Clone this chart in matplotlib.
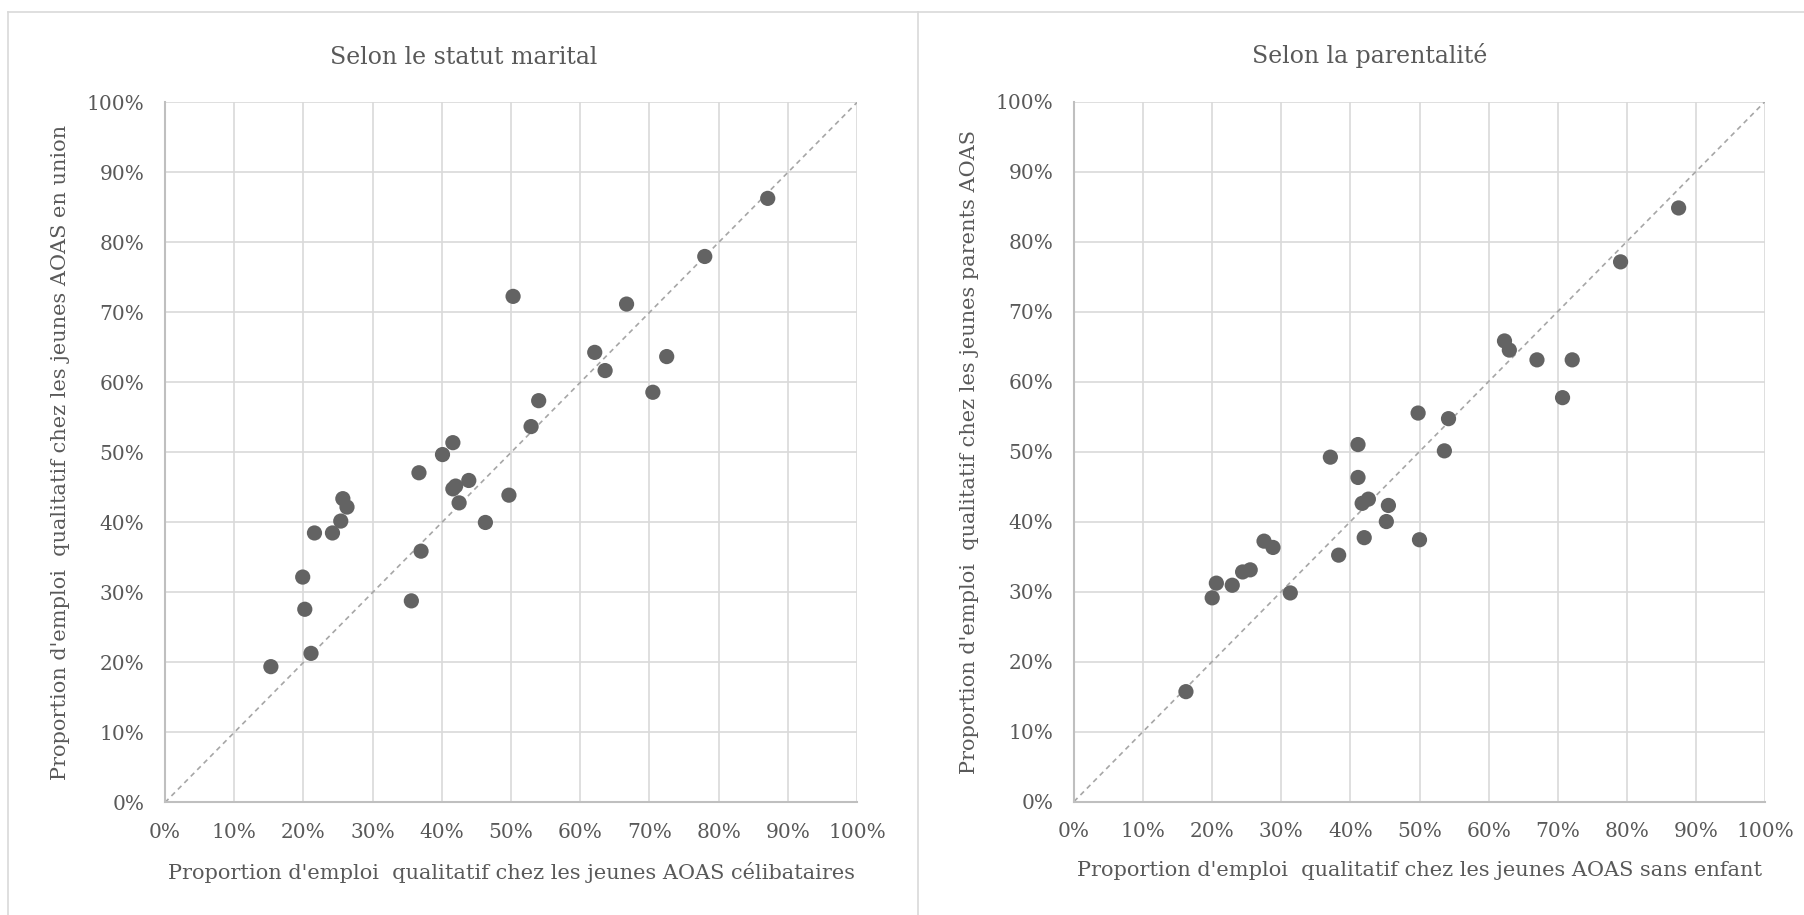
import matplotlib.pyplot as plt
from matplotlib.lines import Line2D
from matplotlib.ticker import PercentFormatter

# Selon le statut marital (x: célibataires, y: en union), en %
marital_x = [15.3, 21.1, 20.2, 19.9, 21.6, 24.2, 25.4, 25.7, 26.3, 35.6,
             37.0, 36.7, 40.1, 41.6, 41.6, 42.0, 42.5, 43.9, 46.3, 49.7,
             52.9, 54.0, 50.3, 66.7, 62.1, 63.6, 72.5, 70.5, 78.0, 87.1]
marital_y = [19.4, 21.3, 27.6, 32.2, 38.5, 38.5, 40.2, 43.4, 42.2, 28.8,
             35.9, 47.1, 49.7, 51.4, 44.8, 45.2, 42.8, 46.0, 40.0, 43.9,
             53.7, 57.4, 72.3, 71.2, 64.3, 61.7, 63.7, 58.6, 78.0, 86.3]

# Selon la parentalité (x: sans enfant, y: parents), en %
parent_x = [16.2, 20.0, 20.6, 22.9, 24.4, 25.5, 27.5, 28.8, 31.3, 38.3,
            37.1, 41.1, 41.1, 41.7, 42.6, 42.0, 45.5, 45.2, 49.8, 54.2,
            53.6, 50.0, 62.3, 63.0, 67.0, 72.1, 70.7, 79.1, 87.5]
parent_y = [15.7, 29.1, 31.2, 30.9, 32.8, 33.1, 37.2, 36.3, 29.8, 35.2,
            49.2, 51.0, 46.3, 42.6, 43.2, 37.7, 42.3, 40.0, 55.5, 54.7,
            50.1, 37.4, 65.8, 64.5, 63.1, 63.1, 57.7, 77.1, 84.8]

titles = ["Selon le statut marital", "Selon la parentalité"]
xlabels = ["Proportion d'emploi  qualitatif chez les jeunes AOAS célibataires",
           "Proportion d'emploi  qualitatif chez les jeunes AOAS sans enfant"]
ylabels = ["Proportion d'emploi  qualitatif chez les jeunes AOAS en union",
           "Proportion d'emploi  qualitatif chez les jeunes parents AOAS"]

plt.rcParams['font.family'] = ['DejaVu Serif']

fig = plt.figure(figsize=(18.04, 9.15), dpi=100)
W, H = 1804, 915

# chart area borders (Excel style)
border = '#d9d9d9'
fig.add_artist(Line2D([8 / W, 1], [1 - 12 / H, 1 - 12 / H], color=border, lw=1.2))
fig.add_artist(Line2D([8 / W, 8 / W], [0, 1 - 12 / H], color=border, lw=1.2))
fig.add_artist(Line2D([918 / W, 918 / W], [0, 1 - 12 / H], color=border, lw=1.2))

positions = [[165 / W, 0.123, 692 / W, 0.765],
             [1074 / W, 0.124, 691 / W, 0.765]]
title_x = [0.431, 0.428]  # titles are centred on the chart area, not the plot
data = [(marital_x, marital_y), (parent_x, parent_y)]
txt = '#595959'

for i in range(2):
    ax = fig.add_axes(positions[i])
    x, y = data[i]
    ax.plot([0, 100], [0, 100], color='#a6a6a6', lw=1.2, linestyle=(0, (3, 2.5)), zorder=2)
    ax.scatter(x, y, s=120, color='#636363', edgecolors='none', zorder=3)
    ax.set_xlim(0, 100)
    ax.set_ylim(0, 100)
    ax.set_xticks(range(0, 101, 10))
    ax.set_yticks(range(0, 101, 10))
    ax.xaxis.set_major_formatter(PercentFormatter(decimals=0))
    ax.yaxis.set_major_formatter(PercentFormatter(decimals=0))
    ax.grid(True, color='#d9d9d9', lw=1.2, zorder=0)
    ax.set_axisbelow(True)
    for s in ['top', 'right']:
        ax.spines[s].set_visible(False)
    for s in ['left', 'bottom']:
        ax.spines[s].set_color('#bfbfbf')
        ax.spines[s].set_linewidth(1.5)
    ax.tick_params(length=0, labelsize=14.5, labelcolor=txt)
    ax.tick_params(axis='x', pad=15)
    ax.tick_params(axis='y', pad=15)
    ax.set_title(titles[i], fontsize=17, color=txt, pad=28, x=title_x[i])
    ax.set_xlabel(xlabels[i], fontsize=15, color=txt, labelpad=14)
    ax.set_ylabel(ylabels[i], fontsize=15, color=txt, labelpad=12)

fig.savefig('out.png', dpi=100, facecolor='white')
